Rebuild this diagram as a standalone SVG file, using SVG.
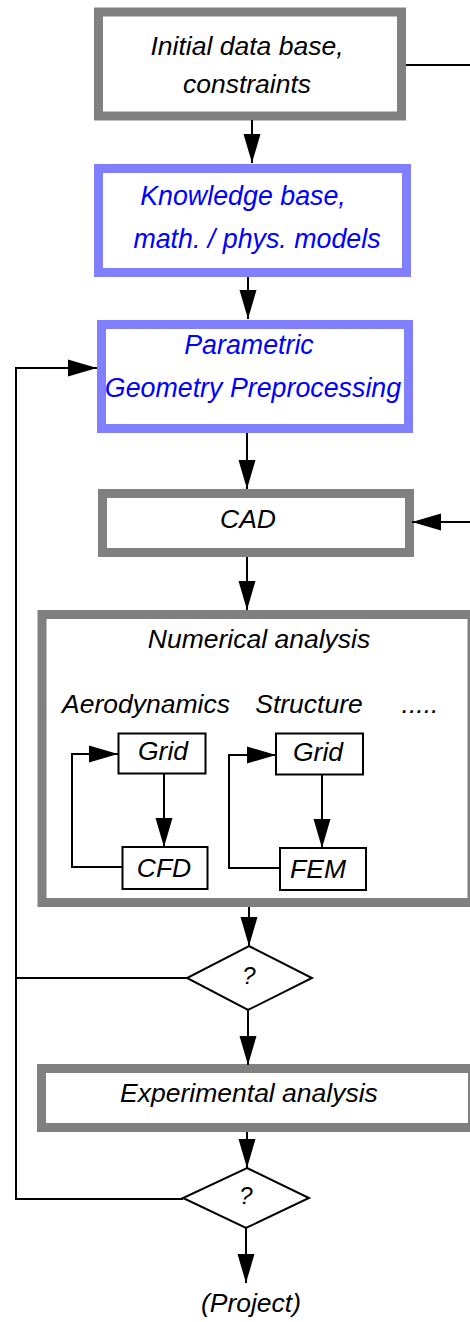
<svg xmlns="http://www.w3.org/2000/svg" width="470" height="1322" viewBox="0 0 470 1322">
  <style>
    text { font-family: "Liberation Sans", Arial, sans-serif; font-style: italic; font-size: 26.5px; fill: #000; text-anchor: middle; }
    text.blue { fill: #0000ff; font-size: 26.8px; }
    .gray { fill: #fff; stroke: #808080; stroke-width: 9; }
    .lilac { fill: #fff; stroke: #8080ff; stroke-width: 9; }
    .thin { fill: #fff; stroke: #000; stroke-width: 2; }
    .wire { fill: none; stroke: #000; stroke-width: 2; }
    .arrow { fill: none; stroke: #000; stroke-width: 2; marker-end: url(#head); }
  </style>
  <defs>
    <marker id="head" markerUnits="userSpaceOnUse" markerWidth="30" markerHeight="18" refX="29" refY="8.5" orient="auto" overflow="visible">
      <path d="M0,0 L29,8.5 L0,17 Z" fill="#000"/>
    </marker>
  </defs>
  <rect width="470" height="1322" fill="#fff"/>

  <g id="initial-data">
    <rect class="gray" x="98.5" y="12" width="303" height="104"/>
    <text x="247" y="55">Initial data base,</text>
    <text x="247" y="93">constraints</text>
  </g>

  <g id="knowledge-base">
    <rect class="lilac" x="98.5" y="168.5" width="308" height="104"/>
    <text class="blue" x="243" y="205">Knowledge base,</text>
    <text class="blue" x="257" y="248">math. / phys. models</text>
  </g>

  <g id="geometry-preprocessing">
    <rect class="lilac" x="101.5" y="324.5" width="307" height="104"/>
    <text class="blue" x="249" y="354">Parametric</text>
    <text class="blue" x="253" y="397">Geometry Preprocessing</text>
  </g>

  <g id="cad">
    <rect class="gray" x="102.5" y="493.5" width="307" height="59"/>
    <text x="248" y="528">CAD</text>
  </g>

  <g id="numerical-analysis">
    <rect class="gray" x="42" y="614.5" width="430" height="288"/>
    <text x="259" y="648">Numerical analysis</text>
    <text x="146" y="713">Aerodynamics</text>
    <text x="309" y="713">Structure</text>
    <text x="420" y="713">.....</text>
  </g>

  <g id="aero-grid">
    <rect class="thin" x="118.5" y="733.5" width="87" height="40"/>
    <text x="163" y="760">Grid</text>
  </g>
  <g id="cfd">
    <rect class="thin" x="122.5" y="847" width="85" height="42"/>
    <text x="164" y="877">CFD</text>
  </g>
  <g id="struct-grid">
    <rect class="thin" x="276" y="733.5" width="87" height="41"/>
    <text x="318" y="761">Grid</text>
  </g>
  <g id="fem">
    <rect class="thin" x="280" y="848" width="86" height="42"/>
    <text x="318" y="878">FEM</text>
  </g>

  <g id="check-1">
    <polygon class="thin" points="249,946 312,978 248,1010 187,978"/>
    <text x="249" y="984" style="font-size:24px">?</text>
  </g>

  <g id="experimental-analysis">
    <rect class="gray" x="41.5" y="1068.5" width="431" height="59"/>
    <text x="249" y="1102">Experimental analysis</text>
  </g>

  <g id="check-2">
    <polygon class="thin" points="247,1168 309,1198 246,1228 183,1198"/>
    <text x="246" y="1204" style="font-size:24px">?</text>
  </g>

  <g id="project">
    <text x="251" y="1312">(Project)</text>
  </g>

  <g id="connectors">
    <!-- main vertical chain -->
    <line class="arrow" x1="252" y1="120" x2="252" y2="163"/>
    <line class="arrow" x1="248" y1="277" x2="248" y2="319"/>
    <line class="arrow" x1="247" y1="433" x2="247" y2="489"/>
    <line class="arrow" x1="247" y1="557" x2="247" y2="610"/>
    <line class="arrow" x1="249" y1="907" x2="249" y2="946"/>
    <line class="arrow" x1="248" y1="1010" x2="248" y2="1065"/>
    <line class="arrow" x1="247" y1="1132" x2="247" y2="1168"/>
    <line class="arrow" x1="246" y1="1228" x2="246" y2="1283"/>
    <!-- side feed into CAD -->
    <line class="wire" x1="406" y1="65" x2="470" y2="65"/>
    <line class="arrow" x1="470" y1="522" x2="412" y2="522"/>
    <!-- iteration loop back to geometry preprocessing -->
    <polyline class="wire" points="187,978 16,978"/>
    <polyline class="arrow" points="183,1199 16,1199 16,368 97,368"/>
    <!-- inner loops -->
    <line class="arrow" x1="164" y1="774" x2="164" y2="847"/>
    <polyline class="arrow" points="122,867 72,867 72,754 118,754"/>
    <line class="arrow" x1="322" y1="775" x2="322" y2="848"/>
    <polyline class="arrow" points="280,868 229,868 229,755 276,755"/>
  </g>
</svg>
